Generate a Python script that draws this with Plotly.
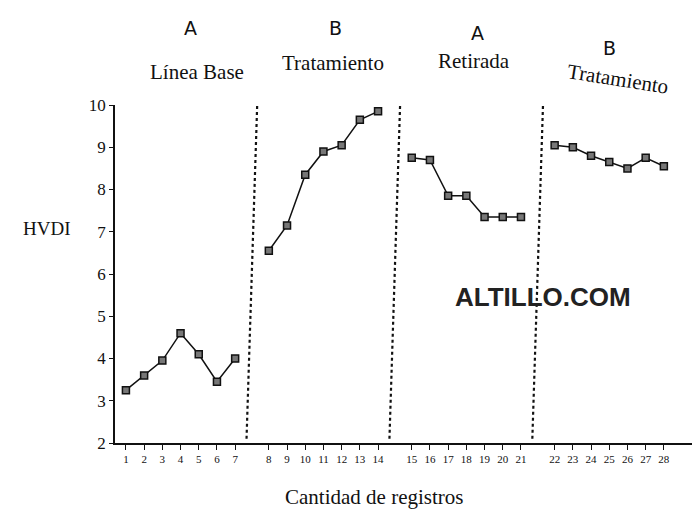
import plotly.graph_objects as go

# ---- data ----
phase_names = ["Línea Base", "Tratamiento", "Retirada", "Tratamiento"]
phase_letters = ["A", "B", "A", "B"]
records_1 = [1, 2, 3, 4, 5, 6, 7]
records_2 = [8, 9, 10, 11, 12, 13, 14]
records_3 = [15, 16, 17, 18, 19, 20, 21]
records_4 = [22, 23, 24, 25, 26, 27, 28]
hvdi_1 = [3.25, 3.6, 3.95, 4.6, 4.1, 3.45, 4.0]
hvdi_2 = [6.55, 7.15, 8.35, 8.9, 9.05, 9.65, 9.85]
hvdi_3 = [8.75, 8.7, 7.85, 7.85, 7.35, 7.35, 7.35]
hvdi_4 = [9.05, 9.0, 8.8, 8.65, 8.5, 8.75, 8.55]
y_ticks = [2, 3, 4, 5, 6, 7, 8, 9, 10]

GAP = 0.85  # extra axis units between phases
SERIF = "Liberation Serif, Times New Roman, serif"

phases_r = [records_1, records_2, records_3, records_4]
phases_v = [hvdi_1, hvdi_2, hvdi_3, hvdi_4]

def pos(rs, k):
    return [r + k * GAP for r in rs]

fig = go.Figure()
all_pos, all_txt = [], []
for k, (rs, vs) in enumerate(zip(phases_r, phases_v)):
    p = pos(rs, k)
    all_pos += p
    all_txt += [str(r) for r in rs]
    fig.add_trace(go.Scatter(
        x=p, y=vs, mode="lines+markers",
        line=dict(color="#111", width=1.5),
        marker=dict(symbol="square", size=7, color="#777",
                    line=dict(color="#111", width=1.5)),
        showlegend=False, hoverinfo="skip"))

# dotted separators between phases (slightly slanted like the scan)
for k in range(3):
    last = pos(phases_r[k], k)[-1]
    first = pos(phases_r[k + 1], k + 1)[0]
    mid = (last + first) / 2
    fig.add_shape(type="line", x0=mid - 0.3, y0=2.1, x1=mid + 0.3, y1=10.2,
                  xref="x", yref="y",
                  line=dict(color="#111", width=2.2, dash="dot"))

def note(x, y, text, font, angle=0):
    fig.add_annotation(x=x, y=y, xref="paper", yref="paper", text=text,
                       showarrow=False, xanchor="center", yanchor="middle",
                       textangle=angle, font=font)

# phase labels (paper coordinates)
name_xy = [(0.142, 1.098), (0.377, 1.124), (0.621, 1.130), (0.870, 1.077)]
letter_xy = [(0.130, 1.228), (0.381, 1.228), (0.628, 1.213), (0.855, 1.169)]
angles = [0, 0, 0, 9]
for k in range(4):
    note(name_xy[k][0], name_xy[k][1], phase_names[k],
         dict(family=SERIF, size=21, color="#111"), angles[k])
    note(letter_xy[k][0], letter_xy[k][1], phase_letters[k],
         dict(family="DejaVu Sans, sans-serif", size=19, color="#111"))

note(-0.118, 0.636, "HVDI", dict(family=SERIF, size=19, color="#111"))
note(0.448, -0.160, "Cantidad de registros", dict(family=SERIF, size=21, color="#111"))
note(0.740, 0.432, "<b>ALTILLO.COM</b>",
     dict(family="Liberation Sans, Arial, sans-serif", size=26, color="#222"))

fig.update_xaxes(range=[0.4, 32.15], tickvals=all_pos, ticktext=all_txt,
                 showline=True, linecolor="#111", linewidth=1.5,
                 ticks="outside", ticklen=5, tickwidth=1.2, tickcolor="#111",
                 showgrid=False, zeroline=False,
                 tickfont=dict(family=SERIF, size=11, color="#111"))
fig.update_yaxes(range=[2, 10], tickvals=y_ticks,
                 showline=True, linecolor="#111", linewidth=1.8,
                 ticks="outside", ticklen=4, tickwidth=1.2, tickcolor="#111",
                 showgrid=False, zeroline=False,
                 tickfont=dict(family=SERIF, size=17, color="#111"))
fig.update_layout(width=700, height=512, plot_bgcolor="white", paper_bgcolor="white",
                  margin=dict(l=107, r=15, t=97, b=77))
fig.write_html("out.html")
